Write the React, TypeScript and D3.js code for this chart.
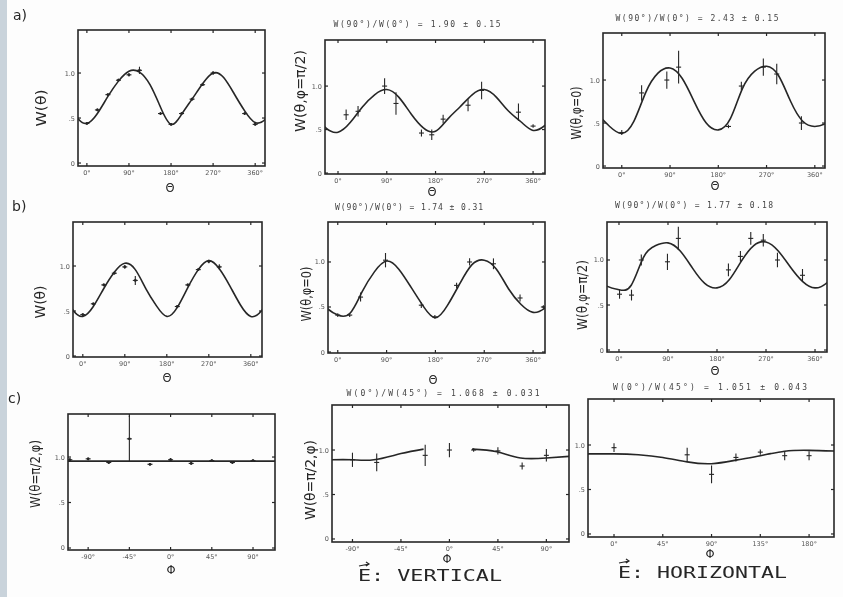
import React from "react";
import * as d3 from "d3";

const WIDTH = 843;
const HEIGHT = 597;

// ---- data ----

// angles (deg) where the fitted curves were sampled
const thetaSamples = [-45, -22.5, 0, 22.5, 45, 67.5, 90, 112.5, 135, 157.5, 180, 202.5, 225, 247.5, 270, 292.5, 315, 337.5, 360, 382.5, 405];

const a1Curve = [0.75, 0.52, 0.44, 0.55, 0.74, 0.91, 1.02, 1.01, 0.87, 0.62, 0.43, 0.54, 0.71, 0.88, 1.0, 0.95, 0.77, 0.58, 0.45, 0.49, 0.65];
const a2Curve = [0.68, 0.52, 0.47, 0.58, 0.76, 0.9, 0.96, 0.87, 0.68, 0.52, 0.48, 0.62, 0.76, 0.9, 0.96, 0.87, 0.71, 0.59, 0.49, 0.55, 0.68];
const a3Curve = [0.6, 0.46, 0.38, 0.52, 0.86, 1.08, 1.14, 1.02, 0.75, 0.5, 0.42, 0.55, 0.9, 1.1, 1.16, 1.05, 0.75, 0.52, 0.46, 0.5, 0.6];
const b1Curve = [0.74, 0.52, 0.44, 0.55, 0.75, 0.93, 1.03, 0.96, 0.75, 0.56, 0.44, 0.54, 0.76, 0.96, 1.06, 0.97, 0.78, 0.57, 0.44, 0.5, 0.68];
const b2Curve = [0.66, 0.5, 0.41, 0.43, 0.67, 0.89, 1.01, 0.92, 0.72, 0.51, 0.38, 0.52, 0.76, 0.97, 1.02, 0.92, 0.7, 0.53, 0.44, 0.49, 0.62];
const b3Curve = [0.8, 0.71, 0.67, 0.72, 1.03, 1.16, 1.19, 1.1, 0.91, 0.74, 0.69, 0.78, 0.99, 1.16, 1.2, 1.1, 0.92, 0.76, 0.69, 0.75, 0.9];

// [angle, value, error]
const a1Points = [[0, 0.44, 0.015], [22.5, 0.59, 0.015], [45, 0.76, 0.015], [67.5, 0.92, 0.015], [90, 0.98, 0.02], [112.5, 1.03, 0.04], [157.5, 0.55, 0.015], [180, 0.43, 0.015], [202.5, 0.55, 0.015], [225, 0.71, 0.015], [247.5, 0.87, 0.015], [270, 1.0, 0.02], [337.5, 0.55, 0.015], [360, 0.43, 0.015]];
const a2Points = [[15, 0.67, 0.06], [37, 0.71, 0.06], [86, 1.0, 0.09], [107, 0.8, 0.13], [154, 0.46, 0.04], [173, 0.44, 0.06], [194, 0.62, 0.05], [240, 0.78, 0.07], [265, 0.95, 0.1], [333, 0.7, 0.1], [360, 0.54, 0.02]];
const a3Points = [[0, 0.39, 0.03], [37, 0.85, 0.09], [84, 1.0, 0.1], [106, 1.15, 0.19], [199, 0.46, 0.02], [223, 0.93, 0.05], [264, 1.15, 0.1], [289, 1.07, 0.12], [335, 0.5, 0.08]];
const b1Points = [[0, 0.46, 0.015], [22.5, 0.58, 0.015], [45, 0.79, 0.015], [67.5, 0.92, 0.015], [90, 0.99, 0.02], [112.5, 0.84, 0.05], [202.5, 0.55, 0.015], [225, 0.79, 0.015], [247.5, 0.96, 0.015], [270, 1.05, 0.02], [292.5, 0.99, 0.03]];
const b2Points = [[0, 0.41, 0.02], [22, 0.41, 0.02], [42, 0.61, 0.05], [88, 1.02, 0.08], [154, 0.52, 0.03], [179, 0.39, 0.02], [219, 0.74, 0.03], [243, 1.0, 0.04], [287, 0.98, 0.06], [336, 0.6, 0.04], [379, 0.5, 0.02]];
const b3Points = [[1, 0.62, 0.05], [23, 0.61, 0.06], [41, 1.0, 0.06], [89, 0.98, 0.09], [109, 1.24, 0.13], [201, 0.89, 0.07], [223, 1.04, 0.06], [242, 1.24, 0.07], [265, 1.22, 0.07], [291, 1.0, 0.08], [337, 0.83, 0.07]];

const c1LineX = [-120, 120];
const c1LineY = [0.955, 0.955];
const c1Points = [[-110, 0.97, 0.015], [-90, 0.98, 0.015], [-67.5, 0.94, 0.015], [-45, 1.2, 0.25], [-22.5, 0.92, 0.015], [0, 0.97, 0.02], [22.5, 0.93, 0.015], [45, 0.96, 0.015], [67.5, 0.94, 0.015], [90, 0.96, 0.015]];

const c2LeftX = [-112, -90, -70, -45, -24];
const c2LeftY = [0.89, 0.89, 0.89, 0.96, 1.01];
const c2RightX = [21, 44, 66, 90, 112];
const c2RightY = [1.01, 0.98, 0.91, 0.91, 0.93];
const c2Points = [[-90, 0.89, 0.08], [-67.5, 0.86, 0.1], [-22.5, 0.94, 0.12], [0, 1.0, 0.08], [22.5, 1.0, 0.02], [45, 0.99, 0.04], [67.5, 0.82, 0.04], [90, 0.94, 0.07]];

const c3CurveX = [-30, 0, 22.5, 45, 67.5, 90, 112.5, 135, 157.5, 180, 210];
const c3CurveY = [0.9, 0.9, 0.89, 0.86, 0.81, 0.79, 0.83, 0.88, 0.93, 0.94, 0.93];
const c3Points = [[0, 0.97, 0.05], [67.5, 0.89, 0.08], [90, 0.67, 0.1], [112.5, 0.86, 0.045], [135, 0.92, 0.03], [157.5, 0.88, 0.05], [180, 0.88, 0.05]];

const thetaTicks = [0, 90, 180, 270, 360];
const thetaTickLabels = ["0°", "90°", "180°", "270°", "360°"];
const phiTicksV = [-90, -45, 0, 45, 90];
const phiTickLabelsV = ["-90°", "-45°", "0°", "45°", "90°"];
const phiTicksH = [0, 45, 90, 135, 180];
const phiTickLabelsH = ["0°", "45°", "90°", "135°", "180°"];
const yTicks = [0, 0.5, 1.0];
const yTickLabels = ["0", ".5", "1.0"];

// ---- layout ----
const INK = "#262626";

const panels = [
  { id: "a1", frame: [78, 30, 187, 136], xd: [-19, 381], yd: [-0.033, 1.478], xt: thetaTicks, xl: thetaTickLabels,
    curves: [[thetaSamples, a1Curve]], points: a1Points, dots: true,
    ylabel: "W(θ)", ylab: [46, 108, 37], xlabel: "Θ", xlab: [170, 192], title: null },
  { id: "a2", frame: [325, 40, 220, 134], xd: [-24, 382], yd: [-0.011, 1.53], xt: thetaTicks, xl: thetaTickLabels,
    curves: [[thetaSamples, a2Curve]], points: a2Points, dots: false,
    ylabel: "W(θ,φ=π/2)", ylab: [305, 91, 82], xlabel: "Θ", xlab: [432, 196],
    title: "W(90°)/W(0°) = 1.90 ± 0.15", tpos: [417, 27, 167] },
  { id: "a3", frame: [603, 33, 222, 135], xd: [-35, 379], yd: [-0.023, 1.547], xt: thetaTicks, xl: thetaTickLabels,
    curves: [[thetaSamples, a3Curve]], points: a3Points, dots: false,
    ylabel: "W(θ,φ=0)", ylab: [581, 113, 53], xlabel: "Θ", xlab: [715, 190],
    title: "W(90°)/W(0°) = 2.43 ± 0.15", tpos: [697, 21, 163] },
  { id: "b1", frame: [73, 222, 189, 135], xd: [-21, 384], yd: [-0.011, 1.489], xt: thetaTicks, xl: thetaTickLabels,
    curves: [[thetaSamples, b1Curve]], points: b1Points, dots: true,
    ylabel: "W(θ)", ylab: [45, 302, 33], xlabel: "Θ", xlab: [167, 382], title: null },
  { id: "b2", frame: [328, 222, 217, 131], xd: [-18, 382], yd: [-0.011, 1.444], xt: thetaTicks, xl: thetaTickLabels,
    curves: [[thetaSamples, b2Curve]], points: b2Points, dots: false,
    ylabel: "W(θ,φ=0)", ylab: [311, 294, 55], xlabel: "Θ", xlab: [433, 384],
    title: "W(90°)/W(0°) = 1.74 ± 0.31", tpos: [409, 210, 148] },
  { id: "b3", frame: [607, 222, 220, 130], xd: [-22, 382], yd: [-0.022, 1.422], xt: thetaTicks, xl: thetaTickLabels,
    curves: [[thetaSamples, b3Curve]], points: b3Points, dots: false,
    ylabel: "W(θ,φ=π/2)", ylab: [587, 295, 70], xlabel: "Θ", xlab: [715, 375],
    title: "W(90°)/W(0°) = 1.77 ± 0.18", tpos: [694, 208, 158] },
  { id: "c1", frame: [68, 414, 207, 136], xd: [-112, 114], yd: [-0.022, 1.473], xt: phiTicksV, xl: phiTickLabelsV,
    curves: [[c1LineX, c1LineY]], points: c1Points, dots: true,
    ylabel: "W(θ=π/2,φ)", ylab: [40, 474, 68], xlabel: "Φ", xlab: [171, 574], title: null },
  { id: "c2", frame: [332, 405, 237, 137], xd: [-109, 111], yd: [-0.034, 1.506], xt: phiTicksV, xl: phiTickLabelsV,
    curves: [[c2LeftX, c2LeftY], [c2RightX, c2RightY]], points: c2Points, dots: false,
    ylabel: "W(θ=π/2,φ)", ylab: [315, 480, 80], xlabel: "Φ", xlab: [447, 563],
    title: "W(0°)/W(45°) = 1.068 ± 0.031", tpos: [443, 396, 193] },
  { id: "c3", frame: [588, 399, 246, 138], xd: [-24, 203], yd: [-0.034, 1.517], xt: phiTicksH, xl: phiTickLabelsH,
    curves: [[c3CurveX, c3CurveY]], points: c3Points, dots: false,
    ylabel: null, ylab: null, xlabel: "Φ", xlab: [710, 558],
    title: "W(0°)/W(45°) = 1.051 ± 0.043", tpos: [710, 390, 194] },
];

function Panel({ cfg }: { cfg: any }) {
  const [fx, fy, fw, fh] = cfg.frame;
  const x = d3.scaleLinear().domain(cfg.xd).range([fx, fx + fw]);
  const y = d3.scaleLinear().domain(cfg.yd).range([fy + fh, fy]);
  const clipId = `clip-${cfg.id}`;

  return (
    <g>
      <defs>
        <clipPath id={clipId}>
          <rect x={fx} y={fy} width={fw} height={fh} />
        </clipPath>
      </defs>

      {/* fitted curves */}
      <g clipPath={`url(#${clipId})`}>
        {cfg.curves.map(([xs, ys]: number[][], i: number) => {
          const path = d3
            .line<number>()
            .x((_, j) => x(xs[j]))
            .y((d) => y(d))
            .curve(xs.length > 2 ? d3.curveNatural : d3.curveLinear)(ys);
          return <path key={i} d={path || ""} fill="none" stroke={INK} strokeWidth={1.6} />;
        })}
      </g>

      {/* data points with error bars */}
      <g clipPath={`url(#${clipId})`} stroke={INK} strokeWidth={1.1}>
        {cfg.points.map(([px, pv, pe]: number[], i: number) => (
          <g key={i}>
            <line x1={x(px)} x2={x(px)} y1={y(pv - pe)} y2={y(pv + pe)} />
            <line x1={x(px) - 2.5} x2={x(px) + 2.5} y1={y(pv)} y2={y(pv)} />
            {cfg.dots && <circle cx={x(px)} cy={y(pv)} r={1.4} fill={INK} stroke="none" />}
          </g>
        ))}
      </g>

      {/* frame and inward ticks */}
      <rect x={fx} y={fy} width={fw} height={fh} fill="none" stroke={INK} strokeWidth={1.6} />
      <g stroke={INK} strokeWidth={1.2}>
        {cfg.xt.map((t: number) => (
          <g key={"x" + t}>
            <line x1={x(t)} x2={x(t)} y1={fy + fh} y2={fy + fh - 3} />
            <line x1={x(t)} x2={x(t)} y1={fy} y2={fy + 3} />
          </g>
        ))}
        {yTicks.map((t) => (
          <g key={"y" + t}>
            <line x1={fx} x2={fx + 3} y1={y(t)} y2={y(t)} />
            <line x1={fx + fw} x2={fx + fw - 3} y1={y(t)} y2={y(t)} />
          </g>
        ))}
      </g>

      {/* tick labels */}
      <g fontFamily="DejaVu Sans, sans-serif" fontSize={6.5} fill="#555">
        {cfg.xt.map((t: number, i: number) => (
          <text key={"xl" + t} x={x(t)} y={fy + fh + 9} textAnchor="middle">
            {cfg.xl[i]}
          </text>
        ))}
        {yTicks.map((t, i) => (
          <text key={"yl" + t} x={fx - 3} y={y(t) + 2.5} textAnchor="end">
            {yTickLabels[i]}
          </text>
        ))}
      </g>

      {/* axis labels */}
      {cfg.ylabel && (
        <text
          transform={`translate(${cfg.ylab[0]},${cfg.ylab[1]}) rotate(-90)`}
          textAnchor="middle"
          fontFamily="DejaVu Sans, sans-serif"
          fontSize={14}
          fill={INK}
          textLength={cfg.ylab[2]}
          lengthAdjust="spacingAndGlyphs"
        >
          {cfg.ylabel}
        </text>
      )}
      <text x={cfg.xlab[0]} y={cfg.xlab[1]} textAnchor="middle" fontFamily="DejaVu Sans, sans-serif" fontSize={11.5} fill={INK}>
        {cfg.xlabel}
      </text>
      {cfg.title && (
        <text
          x={cfg.tpos[0]}
          y={cfg.tpos[1]}
          textAnchor="middle"
          fontFamily="DejaVu Sans Mono, monospace"
          fontSize={8}
          fill="#444"
          textLength={cfg.tpos[2]}
          lengthAdjust="spacing"
        >
          {cfg.title}
        </text>
      )}
    </g>
  );
}

export default function App() {
  return (
    <svg
      width={WIDTH}
      height={HEIGHT}
      style={{ position: "absolute", left: 0, top: 0, background: "#fdfdfd" }}
    >
      <defs>
        <filter id="scan">
          <feGaussianBlur stdDeviation={0.4} />
        </filter>
      </defs>
      <rect x={0} y={0} width={WIDTH} height={HEIGHT} fill="#fdfdfd" />
      <rect x={0} y={0} width={7} height={HEIGHT} fill="#c9d3db" />

      <g filter="url(#scan)">
        {panels.map((p) => (
          <Panel key={p.id} cfg={p} />
        ))}

        <g fontFamily="DejaVu Sans, sans-serif" fontSize={14} fill={INK}>
          <text x={13} y={20}>a)</text>
          <text x={12} y={211}>b)</text>
          <text x={8} y={403}>c)</text>
        </g>

        <g fontFamily="DejaVu Sans Mono, monospace" fontSize={16} fill={INK}>
          <text x={358} y={581} textLength={144} lengthAdjust="spacingAndGlyphs">E: VERTICAL</text>
          <text x={618} y={578} textLength={169} lengthAdjust="spacingAndGlyphs">E: HORIZONTAL</text>
        </g>
        <g stroke={INK} strokeWidth={1.2} fill="none">
          <path d="M359,566 L369,564 M366,562 L369,564 L366,566" />
          <path d="M619,563 L629,561 M626,559 L629,561 L626,563" />
        </g>
      </g>
    </svg>
  );
}
